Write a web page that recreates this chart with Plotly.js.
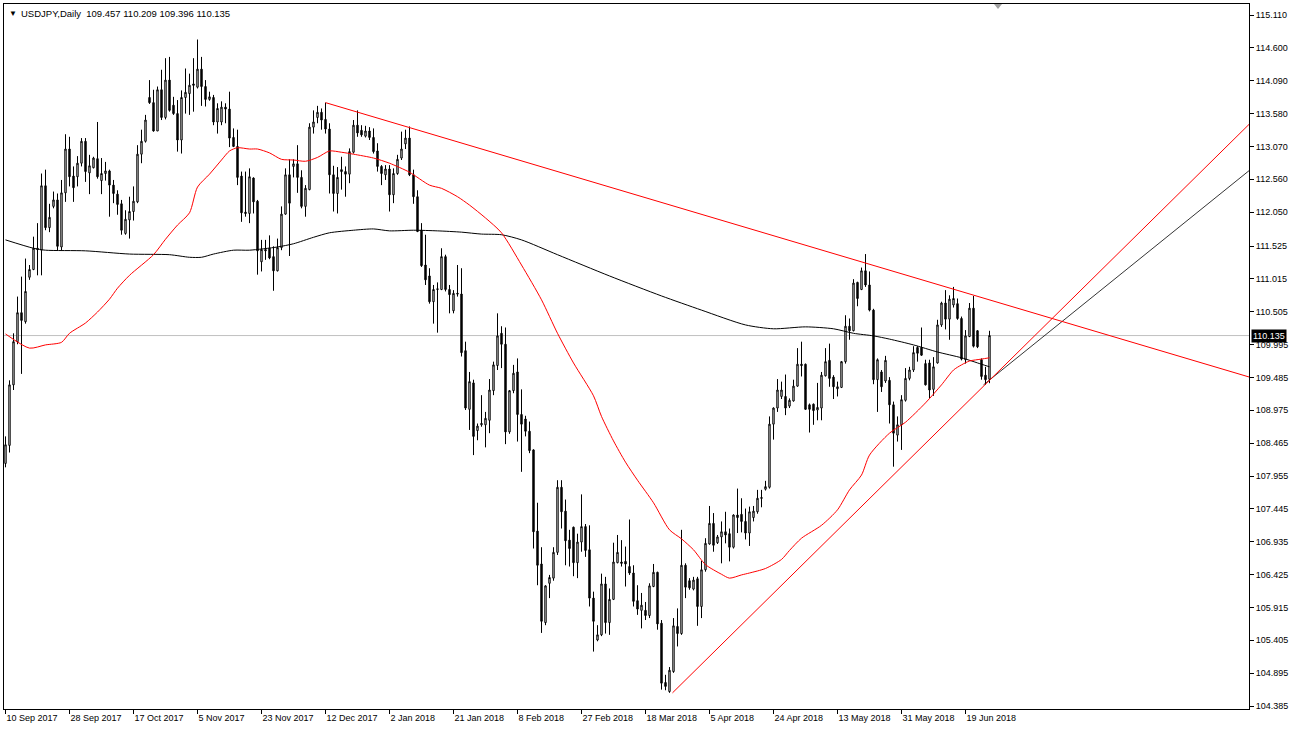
<!DOCTYPE html>
<html>
<head>
<meta charset="utf-8">
<script src="https://cdn.plot.ly/plotly-3.0.1.min.js"></script>
<style>
  html, body { margin: 0; padding: 0; background: #ffffff; }
  #chart { width: 1294px; height: 733px; }
</style>
</head>
<body>
<div id="chart"></div>
<script>
// ---------------- DATA ----------------
const symbol = "USDJPY,Daily";

const opens = [
108.15,108.43,109.37,110.04,110.49,110.35,111.04,111.16,111.49,111.46,
112.46,111.81,112.14,112.24,111.51,112.35,113.03,112.61,112.60,112.81,
113.15,112.66,112.74,112.88,112.54,112.65,112.69,112.47,112.33,112.18,
111.72,111.93,112.06,112.21,112.95,113.15,113.83,113.75,113.31,113.95,
113.52,114.10,113.71,113.58,113.17,113.83,113.89,114.04,113.99,114.27,
114.00,113.80,113.83,113.45,113.45,113.68,113.65,113.21,113.07,112.61,
112.05,112.03,112.58,112.22,111.28,111.47,111.49,111.36,111.14,111.50,
112.02,112.63,112.76,112.80,112.59,112.14,112.40,113.37,113.52,113.60,
113.49,113.34,112.63,112.34,112.71,112.68,112.64,112.98,113.40,113.32,
113.23,113.31,113.21,113.00,112.76,112.63,112.72,112.32,112.65,112.89,
113.11,113.20,112.63,112.29,111.77,111.23,111.06,110.66,110.85,110.85,
111.36,110.85,110.52,110.79,110.78,109.90,108.99,109.40,108.66,108.75,
108.75,108.82,109.28,109.67,110.17,110.00,108.64,109.28,109.57,108.91,
108.84,108.65,108.36,107.10,106.59,105.68,106.29,106.37,106.77,107.78,
107.41,106.96,107.16,106.61,106.93,107.17,106.81,106.06,105.41,105.49,
106.28,105.68,106.04,106.61,106.62,106.63,106.55,106.45,106.02,105.87,
105.87,105.79,106.24,106.46,105.67,104.75,104.61,104.92,105.62,105.51,
106.57,106.33,106.20,106.36,105.93,106.50,106.90,107.22,106.92,107.01,
107.09,107.06,106.85,107.35,107.36,107.25,107.07,107.31,107.40,107.62,
107.75,107.78,108.76,109.01,109.19,109.19,109.04,109.12,109.35,109.69,
109.69,109.06,109.07,108.98,109.01,109.51,109.75,109.49,109.31,109.33,
109.73,110.28,110.21,110.96,110.85,111.14,110.92,110.53,109.45,109.57,
109.43,109.44,109.06,108.59,108.75,109.13,109.47,109.60,109.95,109.95,
109.70,109.71,109.30,109.71,110.30,110.64,110.39,110.61,110.63,110.40,
109.76,110.12,110.56,110.21,109.76,109.52,109.457
];
const highs = [
108.57,109.44,110.17,110.74,111.05,111.33,111.23,111.67,111.88,112.65,
112.71,112.18,112.37,112.34,112.55,113.26,113.22,112.76,112.92,113.20,
113.20,112.94,112.91,113.45,112.89,112.83,112.71,112.55,112.39,112.24,
112.08,112.29,112.45,113.09,113.33,113.56,114.10,113.95,114.00,114.26,
114.44,114.46,113.84,113.79,113.94,114.28,114.20,114.44,114.73,114.46,
114.10,113.92,113.87,113.74,113.77,113.74,113.92,113.35,113.33,112.68,
112.68,112.73,112.59,112.24,111.62,111.62,111.69,111.52,111.64,112.14,
112.73,112.87,112.87,113.09,112.70,112.47,113.43,113.63,113.70,113.66,
113.75,113.43,112.77,112.75,112.91,112.76,113.04,113.48,113.63,113.40,
113.39,113.37,113.35,113.12,112.78,112.78,112.78,112.73,112.94,113.30,
113.33,113.38,112.71,112.39,111.88,111.70,111.18,110.92,110.96,111.49,
111.39,110.92,110.84,111.23,111.18,110.04,109.57,109.45,108.77,109.21,
108.95,109.46,109.73,110.48,110.28,110.26,109.29,109.68,109.78,109.30,
108.89,108.80,108.37,107.54,106.85,106.26,106.42,106.85,107.89,107.89,
107.59,107.12,107.17,107.06,107.67,107.21,107.19,106.16,105.64,106.44,
106.39,106.21,106.92,107.04,106.96,106.86,107.28,106.57,106.26,106.14,
106.00,106.29,106.59,106.47,105.72,104.87,104.99,105.75,105.90,107.12,
106.60,106.37,106.39,106.39,106.64,106.99,107.49,107.38,107.04,107.25,
107.40,107.14,107.36,107.76,107.61,107.45,107.48,107.49,107.74,107.74,
107.88,108.88,109.02,109.46,109.42,109.53,109.16,109.45,109.94,110.04,
109.70,109.08,109.08,109.40,109.57,109.94,110.01,109.52,109.42,109.74,
110.45,110.40,111.01,110.97,111.19,111.40,111.13,110.55,109.78,109.60,
109.82,109.49,109.11,108.88,109.21,109.63,109.65,109.97,109.97,110.26,
109.76,109.76,109.80,110.38,110.66,110.84,110.76,110.89,110.71,110.43,
110.22,110.64,110.75,110.22,109.78,109.65,110.209
];
const lows = [
108.09,108.32,109.29,110.00,109.54,110.32,111.00,111.15,111.07,111.07,
111.77,111.74,112.11,111.46,111.46,112.21,112.45,112.21,112.45,112.76,
112.52,112.33,112.73,112.57,112.33,112.54,111.98,112.19,112.01,111.70,
111.70,111.64,111.92,112.19,112.81,113.13,113.73,113.30,113.31,113.48,
113.49,113.61,113.56,112.99,112.96,113.58,113.56,113.61,113.97,113.70,
113.69,113.78,113.40,113.27,113.40,113.43,113.06,113.06,112.47,111.90,
111.98,111.88,112.03,111.08,111.13,111.31,111.32,110.83,111.13,111.46,
112.01,111.37,112.59,112.35,112.11,111.98,112.39,113.27,113.43,113.33,
113.27,112.34,112.06,112.03,112.40,112.29,112.50,112.96,113.22,113.22,
113.21,113.17,112.96,112.68,112.47,112.55,112.06,112.19,112.63,112.86,
113.03,112.61,112.18,111.74,111.20,110.92,110.63,110.32,110.18,110.84,
110.82,110.48,110.48,110.74,109.81,108.98,108.67,108.28,108.51,108.72,
108.40,108.62,109.21,109.60,109.63,108.45,108.61,109.24,108.49,108.02,
108.57,108.31,106.83,106.26,105.52,105.64,106.06,106.33,106.73,107.14,
106.57,106.55,106.40,106.37,106.78,106.70,105.93,105.23,105.39,105.47,
105.51,105.49,106.03,106.60,106.55,106.24,106.42,105.93,105.80,105.59,
105.72,105.75,106.23,105.57,104.64,104.63,104.59,104.90,105.31,105.49,
106.06,106.19,106.18,105.63,105.75,106.47,106.89,106.78,106.90,106.60,
106.91,106.63,106.83,107.07,107.08,106.97,106.87,107.25,107.37,107.47,
107.73,107.76,108.52,108.95,109.15,108.90,109.01,109.11,109.34,109.50,
108.98,108.63,108.75,108.82,108.82,109.50,109.34,109.15,109.19,109.32,
109.70,110.07,110.20,110.59,110.84,110.89,110.51,109.38,108.95,109.26,
109.40,108.77,108.10,108.49,108.36,109.11,109.44,109.57,109.73,109.82,
109.36,109.16,109.20,109.70,110.27,110.23,110.07,110.57,110.38,109.75,
109.70,110.11,109.95,109.94,109.45,109.37,109.396
];
const closes = [
108.44,109.37,110.04,110.49,110.37,110.82,111.16,111.49,111.47,112.46,
111.81,111.97,112.24,111.52,112.35,113.03,112.60,112.43,112.81,113.15,
112.68,112.77,112.89,112.60,112.65,112.69,112.47,112.34,112.17,111.77,
111.94,112.06,112.22,112.95,113.15,113.48,113.75,113.31,113.95,113.52,
114.10,113.63,113.58,113.17,113.83,113.91,114.02,114.02,114.27,114.00,
113.80,113.84,113.45,113.66,113.68,113.65,113.20,113.07,112.59,112.04,
112.03,112.60,112.21,111.45,111.47,111.45,111.34,111.14,111.50,112.02,
112.63,112.19,112.80,112.59,112.14,112.42,113.37,113.45,113.60,113.48,
113.34,112.63,112.34,112.59,112.68,112.64,112.99,113.40,113.28,113.25,
113.31,113.21,112.99,112.76,112.65,112.72,112.32,112.65,112.87,113.03,
113.20,112.63,112.29,111.75,111.22,111.00,110.66,110.85,110.86,111.36,
110.85,110.77,110.79,110.78,109.87,109.01,109.42,108.57,108.73,108.77,
108.85,109.29,109.68,110.13,110.00,108.64,109.28,109.55,108.91,108.76,
108.65,108.35,107.09,106.57,105.70,106.25,106.38,106.77,107.78,107.40,
106.95,106.83,106.61,106.93,107.17,106.80,106.06,105.70,105.49,106.28,
105.68,106.04,106.62,106.77,106.60,106.59,106.45,106.01,105.89,105.95,
105.79,106.25,106.46,105.66,104.74,104.69,104.94,105.63,105.51,106.57,
106.23,106.22,106.34,105.93,106.50,106.91,107.22,106.88,107.01,107.09,
107.04,106.85,107.35,107.31,107.25,107.07,107.40,107.41,107.61,107.61,
107.79,108.76,109.01,109.29,109.29,109.01,109.13,109.35,109.69,109.67,
108.99,108.99,108.97,109.02,109.52,109.73,109.47,109.34,109.34,109.73,
110.28,110.21,110.95,110.71,111.14,110.92,110.53,109.45,109.76,109.34,
109.75,109.06,108.62,108.75,109.14,109.47,109.60,109.87,109.86,109.83,
109.37,109.29,109.65,110.30,110.64,110.39,110.70,110.71,110.40,109.77,
110.13,110.56,109.97,109.96,109.50,109.45,110.135
];

// moving averages (bar index, price)
const maRedBars = [0,6,10,14,16,20,23,26,28,31,37,40,43,46,48,51,54,56,58,61,63,66,69,72,75,78,81,84,87,92,96,101,106,109,113,116,120,124,129,134,138,142,147,149,152,155,158,162,166,169,172,175,179,181,184,186,190,194,196,199,204,208,211,214,216,221,225,230,234,237,239,241,244,246];
const maRedVals = [110.16,109.94,109.99,110.03,110.17,110.33,110.50,110.70,110.87,111.07,111.39,111.63,111.85,112.04,112.44,112.64,112.86,113.00,113.05,113.03,113.03,112.97,112.87,112.86,112.84,112.90,113.00,112.98,112.95,112.89,112.81,112.67,112.47,112.42,112.29,112.16,111.96,111.73,111.23,110.69,110.17,109.71,109.20,108.88,108.50,108.17,107.89,107.54,107.12,106.98,106.81,106.58,106.43,106.37,106.42,106.45,106.52,106.66,106.80,106.99,107.19,107.43,107.74,107.97,108.28,108.62,108.79,109.09,109.37,109.60,109.68,109.74,109.77,109.79];
const maBlackBars = [0,7,10,20,31,41,46,49,52,57,61,68,72,77,81,87,92,96,102,108,114,119,124,129,138,151,164,174,185,192,200,207,212,217,221,227,233,239,244,246];
const maBlackVals = [111.62,111.49,111.46,111.45,111.40,111.39,111.35,111.35,111.40,111.46,111.46,111.51,111.56,111.66,111.73,111.77,111.79,111.76,111.77,111.76,111.74,111.71,111.70,111.62,111.39,111.06,110.75,110.53,110.30,110.24,110.27,110.24,110.17,110.13,110.08,109.99,109.88,109.79,109.69,109.65];

// trend lines (bar index, price)
const trendDownBars = [80, 311];
const trendDownVals = [113.75, 109.49];
const trendUpBars = [166.75, 311];
const trendUpVals = [104.59, 113.42];
const trendBlackBars = [244.5, 311];
const trendBlackVals = [109.37, 112.70];

// axis labels
const dateBars = [0,16,32,48,64,80,96,112,128,144,160,176,192,208,224,240];
const dateLabels = ["10 Sep 2017","28 Sep 2017","17 Oct 2017","5 Nov 2017","23 Nov 2017","12 Dec 2017","2 Jan 2018","21 Jan 2018","8 Feb 2018","27 Feb 2018","18 Mar 2018","5 Apr 2018","24 Apr 2018","13 May 2018","31 May 2018","19 Jun 2018"];
const priceTicks = [115.110,114.600,114.090,113.580,113.070,112.560,112.050,111.525,111.015,110.505,109.995,109.485,108.975,108.465,107.955,107.445,106.935,106.425,105.915,105.405,104.895,104.385];

// ---------------- CHART ----------------
const n = opens.length;
const bars = opens.map((_, i) => i);
const last = n - 1;

const W = 1294, H = 733;
const M = {l: 4, r: 45, t: 4, b: 24};
const PW = W - M.l - M.r, PH = H - M.t - M.b;
const px = x => (x - M.l) / PW;          // pixel -> paper x
const py = y => 1 - (y - M.t) / PH;      // pixel -> paper y

const FONT = "Liberation Sans, Arial, sans-serif";

const traces = [
  {
    type: 'candlestick', x: bars, open: opens, high: highs, low: lows, close: closes,
    increasing: {line: {color: '#000000', width: 1}, fillcolor: '#ffffff'},
    decreasing: {line: {color: '#000000', width: 1}, fillcolor: '#000000'},
    whiskerwidth: 0, hoverinfo: 'skip', showlegend: false
  },
  {type: 'scatter', mode: 'lines', x: maBlackBars, y: maBlackVals, line: {color: '#000000', width: 1, shape: 'spline', smoothing: 0.7}, hoverinfo: 'skip', showlegend: false},
  {type: 'scatter', mode: 'lines', x: maRedBars, y: maRedVals, line: {color: '#ff0000', width: 1, shape: 'spline', smoothing: 0.7}, hoverinfo: 'skip', showlegend: false},
  {type: 'scatter', mode: 'lines', x: trendBlackBars, y: trendBlackVals, line: {color: '#000000', width: 0.8}, hoverinfo: 'skip', showlegend: false},
  {type: 'scatter', mode: 'lines', x: trendDownBars, y: trendDownVals, line: {color: '#ff0000', width: 1}, hoverinfo: 'skip', showlegend: false},
  {type: 'scatter', mode: 'lines', x: trendUpBars, y: trendUpVals, line: {color: '#ff0000', width: 1}, hoverinfo: 'skip', showlegend: false}
];

const header = "USDJPY,Daily  " + opens[last].toFixed(3) + " " + highs[last].toFixed(3) + " " +
               lows[last].toFixed(3) + " " + closes[last].toFixed(3);

const layout = {
  width: W, height: H,
  margin: {l: M.l, r: M.r, t: M.t, b: M.b, pad: 0},
  paper_bgcolor: '#ffffff', plot_bgcolor: '#ffffff',
  showlegend: false, dragmode: false, hovermode: false,
  boxgap: 0.5,
  font: {family: FONT, size: 9, color: '#000000'},
  xaxis: {
    type: 'linear', range: [-0.375, 310.875],
    showgrid: false, zeroline: false,
    showline: true, mirror: true, linecolor: '#000000', linewidth: 1,
    tickmode: 'array', tickvals: dateBars, ticktext: dateLabels,
    ticks: 'outside', ticklen: 4, tickcolor: '#000000', tickwidth: 1,
    ticklabelposition: 'outside right',
    tickfont: {family: FONT, size: 9, color: '#000000'},
    rangeslider: {visible: false}, fixedrange: true
  },
  yaxis: {
    side: 'right', range: [104.339, 115.281],
    showgrid: false, zeroline: false,
    showline: true, mirror: true, linecolor: '#000000', linewidth: 1,
    tickmode: 'array', tickvals: priceTicks, ticktext: priceTicks.map(v => v.toFixed(3)),
    ticks: 'outside', ticklen: 4, tickcolor: '#000000', tickwidth: 1,
    tickfont: {family: FONT, size: 9, color: '#000000'},
    fixedrange: true
  },
  shapes: [
    {type: 'line', xref: 'paper', yref: 'y', x0: 0, x1: 1, y0: closes[last], y1: closes[last],
     line: {color: '#c0c0c0', width: 1}, layer: 'below'},
    {type: 'path', xref: 'paper', yref: 'paper',
     path: 'M ' + px(994) + ' ' + py(4) + ' L ' + px(1002) + ' ' + py(4) + ' L ' + px(998) + ' ' + py(9) + ' Z',
     fillcolor: '#a0a0a0', line: {width: 0}}
  ],
  annotations: [
    {xref: 'paper', yref: 'paper', x: px(7), y: py(13), xanchor: 'left', yanchor: 'middle',
     text: '▼', showarrow: false, font: {family: FONT, size: 8, color: '#000000'}},
    {xref: 'paper', yref: 'paper', x: px(19), y: py(13), xanchor: 'left', yanchor: 'middle',
     text: header, showarrow: false, font: {family: FONT, size: 9.5, color: '#000000'}},
    {xref: 'paper', yref: 'y', x: px(1251), y: closes[last], xanchor: 'left', yanchor: 'middle',
     text: closes[last].toFixed(3), showarrow: false, bgcolor: '#000000', borderpad: 1,
     font: {family: FONT, size: 9, color: '#ffffff'}}
  ]
};

Plotly.newPlot('chart', traces, layout, {staticPlot: true, displayModeBar: false});
</script>
</body>
</html>
